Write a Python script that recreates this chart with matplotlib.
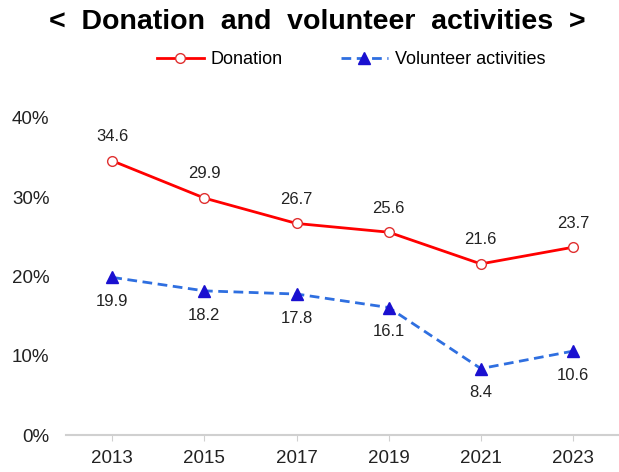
import matplotlib.pyplot as plt
from matplotlib import font_manager

years = ["2013", "2015", "2017", "2019", "2021", "2023"]
donation = [34.6, 29.9, 26.7, 25.6, 21.6, 23.7]
volunteer = [19.9, 18.2, 17.8, 16.1, 8.4, 10.6]
yticks = [0, 10, 20, 30, 40]

names = {f.name for f in font_manager.fontManager.ttflist}
narrow = "Liberation Sans Narrow" if "Liberation Sans Narrow" in names else "Liberation Sans"
plt.rcParams["font.family"] = [narrow, "DejaVu Sans"]

fig = plt.figure(figsize=(6.19, 4.72), dpi=100)
ax = fig.add_axes([0.107, 0.078, 0.893, 0.672])

x = list(range(len(years)))
ax.plot(x, donation, color="#ff0000", lw=2, marker="o", ms=7,
        mfc="white", mec="#e03030", mew=1, label="Donation", clip_on=False)
ax.plot(x, volunteer, color="#2f6fe0", lw=2, ls=(0, (3.5, 2)), marker="^", ms=8,
        mfc="#1a10d0", mec="#1a10d0", label="Volunteer activities", clip_on=False)

for i, v in enumerate(donation):
    ax.annotate(f"{v}", (i, v), xytext=(0, 12), textcoords="offset points",
                ha="center", va="bottom", fontsize=12, color="#222222",
                family="Liberation Sans")
for i, v in enumerate(volunteer):
    ax.annotate(f"{v}", (i, v), xytext=(0, -12), textcoords="offset points",
                ha="center", va="top", fontsize=12, color="#222222",
                family="Liberation Sans")

ax.set_xlim(-0.5, len(years) - 0.5)
ax.set_ylim(0, 40)
ax.set_xticks(x)
ax.set_xticklabels(years, fontsize=13.5, family="Liberation Sans", color="#222222")
ax.set_yticks(yticks)
ax.set_yticklabels([f"{t}%" for t in yticks], fontsize=13.5,
                   family="Liberation Sans", color="#222222")
for s in ["top", "right", "left"]:
    ax.spines[s].set_visible(False)
ax.spines["bottom"].set_color("#d0d0d0")
ax.spines["bottom"].set_linewidth(1.5)
ax.tick_params(axis="x", length=4, color="#d0d0d0", pad=7)
ax.tick_params(axis="y", length=0, pad=12)

fig.text(0.513, 0.953, "<  Donation  and  volunteer  activities  >", ha="center",
         va="center", fontsize=20.5, fontweight="bold", color="black")
fig.legend(loc="center", bbox_to_anchor=(0.567, 0.873), ncol=2, frameon=False,
           fontsize=13, handlelength=2.6, columnspacing=3.2, handletextpad=0.4)

fig.savefig("out.png", dpi=100)
